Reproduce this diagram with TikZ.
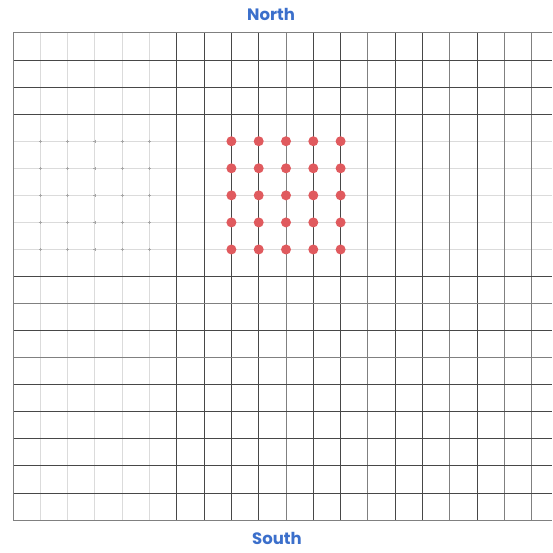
\documentclass[tikz,border=0pt]{standalone}
\usepackage{fontspec}
\newfontfamily\labelfont{Poppins}[UprightFont=* Bold]
\definecolor{labelblue}{HTML}{3B6FCB}
\definecolor{dotred}{HTML}{E05A5E}
\tikzset{
  gline/.style={line width=1pt},
  glight/.style={gline, draw=black!14},
  gmid/.style={gline, draw=black!50},
  gdark/.style={gline, draw=black!72},
  tickmark/.style={line width=0.7pt, draw=black!35},
  dotnode/.style={circle, fill=dotred, inner sep=0pt, minimum size=10pt},
  dirlabel/.style={font=\labelfont\fontsize{16.5}{19}\selectfont, text=labelblue, inner sep=0pt}
}
\begin{document}
\begin{tikzpicture}[x=1pt,y=-1pt]
\useasboundingbox (0,0) rectangle (552,553);
% light horizontal lines (rows 4..8)
\foreach \j in {4,...,8} {
  \draw[glight] (13,{33+27.06*\j}) -- (552,{33+27.06*\j});
}
% light vertical lines (columns 1..5)
\foreach \i in {1,...,5} {
  \draw[glight] ({13+27.3*\i},33) -- ({13+27.3*\i},520);
}
% tick marks in the light area
\foreach \i in {1,...,5} {
  \foreach \j in {4,...,8} {
    \draw[tickmark] ({13+27.3*\i-1.5},{33+27.06*\j}) -- ({13+27.3*\i+1.5},{33+27.06*\j});
    \draw[tickmark] ({13+27.3*\i},{33+27.06*\j-1.5}) -- ({13+27.3*\i},{33+27.06*\j+1.5});
  }
}
% right vertical lines
\foreach \i/\s in {6/gdark,7/gdark,8/gdark,9/gdark,10/gmid,11/gdark,12/gdark,13/gmid,14/gdark,15/gdark,16/gmid,17/gdark,18/gmid,19/gmid} {
  \draw[\s] ({13+27.3*\i},33) -- ({13+27.3*\i},520);
}
% dark horizontal lines
\foreach \j/\s in {0/gmid,1/gdark,2/gdark,3/gdark,9/gdark,10/gmid,11/gdark,12/gmid,13/gdark,14/gdark,15/gdark,16/gdark,17/gdark,18/gmid} {
  \draw[\s] (13,{33+27.06*\j}) -- (552,{33+27.06*\j});
}
% left border
\draw[gmid] (13,33) -- (13,520);
% dots
\foreach \i in {8,...,12} {
  \foreach \j in {4,...,8} {
    \node[dotnode] (d\i-\j) at ({13+27.3*\i},{33+27.06*\j}) {};
  }
}
\node[dirlabel] (north) at (271,14) {North};
\node[dirlabel] (south) at (277,538.5) {South};
\end{tikzpicture}
\end{document}
